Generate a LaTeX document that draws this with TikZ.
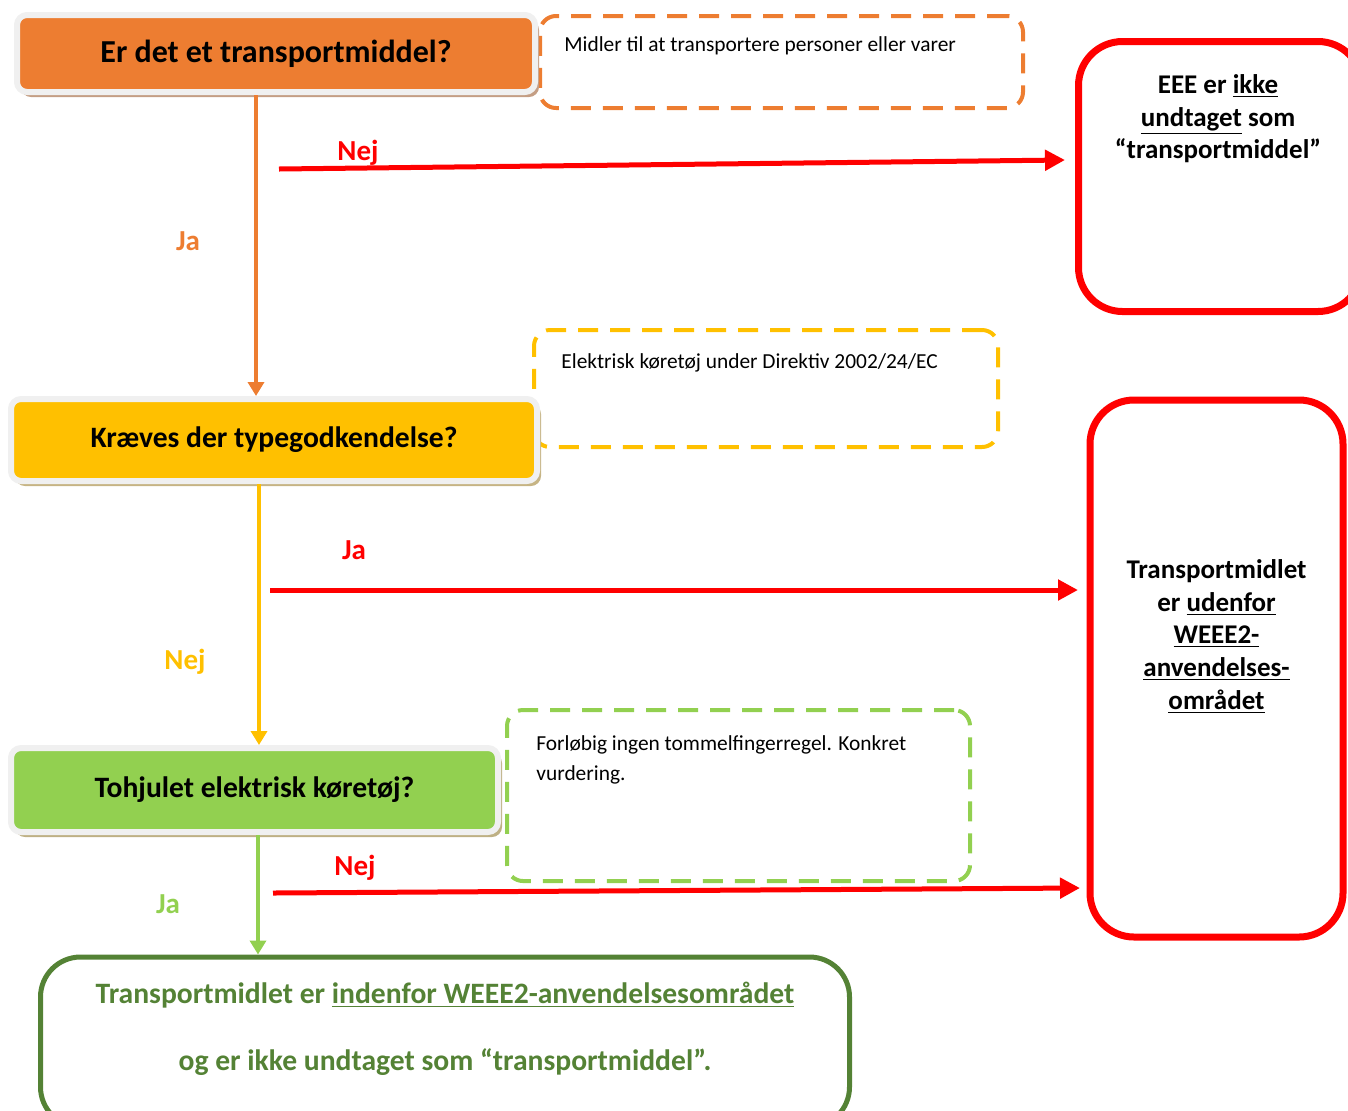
\documentclass[tikz,border=0pt]{standalone}
\usepackage{fontspec}
\setmainfont{Carlito}
\usetikzlibrary{arrows.meta,shadows}
\definecolor{orangeQ}{HTML}{ED7D31}
\definecolor{yellowQ}{HTML}{FFC000}
\definecolor{greenQ}{HTML}{92D050}
\definecolor{darkgreen}{HTML}{548235}
\definecolor{frameGray}{HTML}{F0F0F0}
\definecolor{shadowO}{RGB}{196,158,132}
\definecolor{shadowY}{RGB}{198,180,132}
\definecolor{shadowG}{RGB}{190,176,132}
\tikzset{
  question/.style={rounded corners=5pt, draw=frameGray, line width=3pt, inner sep=0pt,
    font=\bfseries\fontsize{14.8}{17}\selectfont},
  note/.style={rounded corners=8pt, line width=2pt, dash pattern=on 10pt off 6pt, inner sep=0pt},
  notetext/.style={font=\fontsize{10.7}{15}\selectfont, align=left, inner sep=0pt},
  answer/.style={draw=red, line width=3.5pt, rounded corners=22pt, inner sep=0pt},
  answertext/.style={font=\bfseries\fontsize{13.5}{16.3}\selectfont, align=center, inner sep=0pt},
  lbl/.style={font=\bfseries\fontsize{14.5}{17}\selectfont, inner sep=0pt},
  redarrow/.style={draw=red, line width=2.5pt, -{Triangle[length=10pt,width=10pt]}},
}
\begin{document}
\begin{tikzpicture}[x=0.5pt, y=-0.5pt, >={Triangle[length=7pt,width=8pt]}, line join=round]
	\useasboundingbox (0,0) rectangle (1348,1110);
	\clip (0,0) rectangle (1348,1110);
	% forklaringer
	\node[note, draw=orangeQ, minimum width=241.5pt, minimum height=46pt] (n1) at (781.5,62) {};
	\node[notetext, anchor=base west] (t1) at (564,51) {Midler til at transportere personer eller varer};
	\node[note, draw=yellowQ, minimum width=232pt, minimum height=58.5pt] (n2) at (766,388.5) {};
	\node[notetext, anchor=base west] (t2) at (561,368) {Elektrisk køretøj under Direktiv 2002/24/EC};
	\node[note, draw=greenQ, minimum width=231.5pt, minimum height=85.5pt] (n3) at (738.5,795.5) {};
	\node[notetext, anchor=north west] (t3) at (536,735) {Forløbig ingen tommelfingerregel. Konkret\\vurdering.};
	% spørgsmål
	\node[question, fill=orangeQ, drop shadow={shadow xshift=2pt, shadow yshift=-2.5pt, fill=shadowO, opacity=1},
		minimum width=259pt, minimum height=38.5pt, font=\bfseries\fontsize{16}{19}\selectfont] (q1) at (276,53.5) {Er det et transportmiddel?};
	\node[question, fill=yellowQ, drop shadow={shadow xshift=2pt, shadow yshift=-2.5pt, fill=shadowY, opacity=1},
		minimum width=263pt, minimum height=41pt] (q2) at (274,440) {Kræves der typegodkendelse?};
	\node[question, fill=greenQ, drop shadow={shadow xshift=2pt, shadow yshift=-2.5pt, fill=shadowG, opacity=1},
		minimum width=243.5pt, minimum height=42pt] (q3) at (254.5,790) {Tohjulet elektrisk køretøj?};
	% resultater
	\node[answer, minimum width=141.75pt, minimum height=135pt] (out1) at (1220.25,176.5) {};
	\node[answertext] (a1) at (1218,119) {EEE er \underline{ikke}\\\underline{undtaget} som\\“transportmiddel”};
	\node[answer, minimum width=126.5pt, minimum height=268.5pt] (out2) at (1216.5,668.5) {};
	\node[answertext] (a2) at (out2) [yshift=16pt] {Transportmidlet\\er \underline{udenfor}\\\underline{WEEE2-}\\\underline{anvendelses-}\\\underline{området}};
	\node[draw=darkgreen, line width=2.5pt, rounded corners=20pt, minimum width=404.5pt, minimum height=85pt] (fin) at (445,1042) {};
	\node[font=\bfseries\fontsize{14.8}{33.5}\selectfont, text=darkgreen, align=center, inner sep=0pt] (fintext) at (445,1029)
		{Transportmidlet er \underline{indenfor WEEE2-anvendelsesområdet}\\og er ikke undtaget som “transportmiddel”.};
	% pile ned
	\draw[->, orangeQ, line width=2pt] ([xshift=-10pt]q1.south) -- ([xshift=-9pt]q2.north);
	\draw[->, yellowQ, line width=2pt] ([xshift=-7.5pt]q2.south) -- ([xshift=2.25pt]q3.north);
	\draw[->, greenQ, line width=2pt] ([xshift=1.75pt]q3.south) -- ([xshift=-93.5pt]fin.north);
	\node[lbl, text=orangeQ] (ja1) at (188,241) {Ja};
	\node[lbl, text=yellowQ] (nej2) at (185,662) {Nej};
	\node[lbl, text=greenQ] (ja3) at (168,904) {Ja};
	% pile til højre
	\coordinate (s1) at (279,169); \coordinate (e1) at (1065,160);
	\coordinate (s2) at (270,590); \coordinate (e2) at (1078,590);
	\coordinate (s3) at (273,893); \coordinate (e3) at (1080,888);
	\draw[redarrow] (s1) -- (e1);
	\draw[redarrow] (s2) -- (e2);
	\draw[redarrow] (s3) -- (e3);
	\node[lbl, text=red] (nej1) at (358,153) {Nej};
	\node[lbl, text=red] (ja2) at (354,550) {Ja};
	\node[lbl, text=red] (nej3) at (355,868) {Nej};
\end{tikzpicture}
\end{document}
